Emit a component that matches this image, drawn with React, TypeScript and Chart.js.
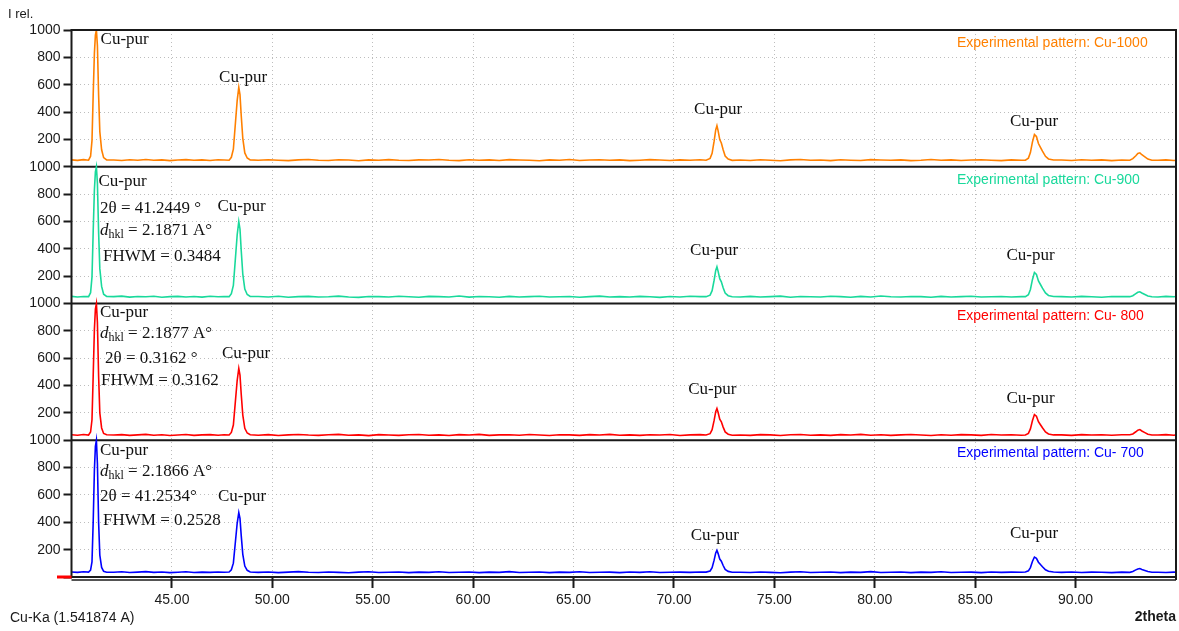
import { useEffect, useRef } from 'react';
import { Chart, registerables } from 'chart.js';

Chart.register(...registerables);

// 2θ sampling grid (degrees), shared by the four diffractograms
const twoTheta = [
  40.0, 40.3, 40.6,
  40.85, 40.95, 41.02, 41.08, 41.14, 41.19, 41.24, 41.29, 41.35, 41.41, 41.5, 41.6, 41.75,
  42.1, 42.5, 42.9, 43.3, 43.7, 44.1, 44.5, 44.9, 45.3, 45.7, 46.1, 46.5, 46.9, 47.3, 47.6,
  47.85, 47.96, 48.06, 48.16, 48.25, 48.33, 48.39, 48.45, 48.53, 48.63, 48.75, 48.9,
  49.3, 49.8, 50.3, 50.8, 51.3, 51.8, 52.3, 52.8, 53.3, 53.8, 54.3, 54.8, 55.3, 55.8, 56.3,
  56.8, 57.3, 57.8, 58.3, 58.8, 59.3, 59.8, 60.3, 60.8, 61.3, 61.8, 62.3, 62.8, 63.3, 63.8,
  64.3, 64.8, 65.3, 65.8, 66.3, 66.8, 67.3, 67.8, 68.3, 68.8, 69.3, 69.8, 70.3, 70.8, 71.3,
  71.6, 71.8, 71.9, 72.0, 72.08, 72.14, 72.2, 72.28, 72.36, 72.45, 72.55, 72.7, 72.9,
  73.3, 73.8, 74.3, 74.8, 75.3, 75.8, 76.3, 76.8, 77.3, 77.8, 78.3, 78.8, 79.3, 79.8, 80.3,
  80.8, 81.3, 81.8, 82.3, 82.8, 83.3, 83.8, 84.3, 84.8, 85.3, 85.8, 86.3, 86.8, 87.3,
  87.5, 87.65, 87.75, 87.85, 87.95, 88.05, 88.15, 88.25, 88.35, 88.5, 88.65, 88.9,
  89.3, 89.8, 90.3, 90.8, 91.3, 91.8, 92.3,
  92.7, 92.85, 93.0, 93.1, 93.2, 93.3, 93.45, 93.6, 93.8,
  94.1, 94.5, 94.9, 95.0,
];

// Relative intensities (0–1000) per sample
const cu1000 = [
  50, 47, 52,
  48, 77, 191, 524, 829, 962, 1000, 886, 524, 257, 124, 67, 50,
  49, 46, 51, 48, 53, 47, 50, 45, 49, 52, 47, 50, 46, 51, 49,
  48, 69, 128, 314, 484, 580, 527, 378, 208, 101, 64, 50,
  47, 51, 48, 45, 50, 53, 48, 46, 51, 49, 44, 50, 47, 52, 48,
  46, 50, 49, 53, 47, 45, 51, 48, 50, 46, 52, 49, 47, 44, 50,
  48, 53, 46, 49, 51, 47, 50, 45, 48, 52, 49, 46, 50, 48, 51,
  48, 61, 98, 187, 270, 300, 262, 199, 174, 124, 78, 56, 47,
  49, 46, 51, 48, 44, 50, 53, 47, 49, 45, 51, 48, 46, 52, 49,
  47, 50, 45, 48, 53, 47, 50, 46, 49, 51, 48, 45, 50, 47,
  48, 63, 104, 180, 236, 221, 170, 142, 114, 76, 57, 49,
  49, 46, 51, 48, 50, 45, 49,
  48, 59, 80, 97, 102, 88, 72, 56, 47,
  47, 50, 46, 48,
];

const cu900 = [
  52, 48, 51,
  50, 79, 193, 525, 830, 962, 1000, 880, 520, 255, 125, 68, 52,
  50, 54, 47, 51, 49, 53, 46, 50, 52, 48, 51, 47, 53, 49, 50,
  50, 72, 132, 325, 501, 600, 545, 391, 215, 105, 66, 51,
  51, 48, 53, 46, 50, 52, 47, 49, 54, 48, 45, 51, 50, 47, 53,
  49, 46, 52, 50, 48, 55, 47, 51, 49, 46, 52, 48, 50, 53, 47,
  49, 51, 46, 50, 54, 48, 50, 47, 52, 49, 45, 51, 48, 53, 50,
  50, 61, 94, 170, 242, 268, 235, 181, 159, 115, 76, 57, 49,
  48, 52, 47, 50, 54, 46, 51, 49, 47, 53, 50, 46, 52, 48, 55,
  49, 47, 51, 50, 46, 52, 48, 50, 53, 47, 49, 51, 48, 50,
  50, 64, 103, 174, 227, 213, 165, 139, 112, 77, 59, 51,
  50, 47, 52, 49, 46, 51, 50,
  50, 57, 72, 82, 86, 77, 66, 55, 49,
  48, 52, 49, 51,
];

const cu800 = [
  40, 37, 42,
  38, 60, 150, 470, 810, 960, 1000, 860, 470, 200, 90, 50, 40,
  38, 41, 36, 39, 43, 37, 40, 35, 38, 42, 36, 39, 41, 37, 40,
  38, 57, 111, 282, 437, 525, 476, 340, 184, 87, 53, 40,
  37, 41, 35, 39, 42, 38, 36, 40, 43, 37, 39, 34, 41, 38, 36,
  40, 42, 37, 39, 35, 41, 38, 43, 36, 39, 40, 37, 42, 38, 35,
  40, 39, 36, 41, 38, 43, 37, 39, 36, 40, 38, 42, 35, 39, 41,
  38, 48, 77, 145, 209, 232, 203, 154, 135, 96, 61, 44, 37,
  38, 36, 41, 39, 35, 40, 42, 37, 39, 36, 41, 38, 43, 37, 40,
  36, 39, 42, 38, 35, 40, 37, 41, 39, 36, 42, 38, 40, 37,
  38, 50, 83, 143, 188, 176, 136, 113, 91, 61, 46, 39,
  39, 36, 41, 38, 40, 37, 40,
  40, 46, 62, 74, 78, 68, 56, 44, 38,
  38, 41, 37, 39,
];

const cu700 = [
  37, 34, 38,
  36, 50, 110, 400, 780, 955, 1000, 830, 400, 160, 70, 42, 35,
  35, 38, 33, 36, 39, 34, 37, 32, 35, 38, 33, 36, 34, 37, 35,
  36, 53, 101, 254, 393, 471, 428, 306, 166, 80, 49, 37,
  34, 37, 32, 36, 39, 35, 33, 37, 34, 31, 36, 38, 33, 35, 37,
  32, 36, 34, 38, 33, 35, 37, 32, 36, 34, 39, 33, 35, 37, 32,
  36, 34, 38, 33, 35, 36, 32, 37, 34, 38, 33, 35, 36, 34, 37,
  36, 44, 68, 123, 176, 195, 171, 131, 116, 84, 55, 41, 35,
  35, 33, 37, 34, 31, 36, 38, 33, 35, 37, 32, 36, 34, 39, 33,
  35, 37, 32, 36, 34, 38, 33, 35, 36, 32, 37, 34, 36, 35,
  36, 45, 69, 113, 146, 137, 108, 91, 75, 53, 42, 36,
  34, 37, 33, 36, 35, 32, 36,
  34, 40, 52, 59, 62, 55, 48, 40, 35,
  35, 33, 36, 34,
];

const sampleNames = ['Cu-1000', 'Cu-900', 'Cu- 800', 'Cu- 700'];
const sampleColors = ['#ff8000', '#19d99b', '#ff0000', '#0000ff'];
const sampleSeries = [cu1000, cu900, cu800, cu700];

const xTickValues = [45, 50, 55, 60, 65, 70, 75, 80, 85, 90];
const panelMax = 1000;
const panelCount = 4;

// "Cu-pur" phase tags, in (2θ, intensity) of their own panel
const peakTags = [
  { panel: 0, x: 41.45, y: 927, align: 'left' },
  { panel: 0, x: 48.55, y: 654, align: 'center' },
  { panel: 0, x: 72.2, y: 415, align: 'center' },
  { panel: 0, x: 87.93, y: 334, align: 'center' },
  { panel: 1, x: 41.34, y: 890, align: 'left' },
  { panel: 1, x: 48.47, y: 707, align: 'center' },
  { panel: 1, x: 72.0, y: 385, align: 'center' },
  { panel: 1, x: 87.76, y: 354, align: 'center' },
  { panel: 2, x: 41.42, y: 931, align: 'left' },
  { panel: 2, x: 48.69, y: 634, align: 'center' },
  { panel: 2, x: 71.91, y: 373, align: 'center' },
  { panel: 2, x: 87.76, y: 305, align: 'center' },
  { panel: 3, x: 41.42, y: 927, align: 'left' },
  { panel: 3, x: 48.49, y: 585, align: 'center' },
  { panel: 3, x: 72.03, y: 305, align: 'center' },
  { panel: 3, x: 87.93, y: 320, align: 'center' },
];

// Main-peak measurements written beside the (111) reflection
const peakInfo = [
  { panel: 1, x: 41.42, y: 695, text: '2θ = 41.2449 °' },
  { panel: 1, x: 41.42, y: 531, dhkl: ' = 2.1871 A°' },
  { panel: 1, x: 41.57, y: 342, text: 'FHWM = 0.3484' },
  { panel: 2, x: 41.42, y: 780, dhkl: ' = 2.1877 A°' },
  { panel: 2, x: 41.67, y: 598, text: '2θ = 0.3162 °' },
  { panel: 2, x: 41.47, y: 439, text: 'FHWM = 0.3162' },
  { panel: 3, x: 41.42, y: 768, dhkl: ' = 2.1866 A°' },
  { panel: 3, x: 41.42, y: 585, text: '2θ = 41.2534°' },
  { panel: 3, x: 41.57, y: 415, text: 'FHWM = 0.2528' },
];

const SANS = '"Liberation Sans", Arial, sans-serif';
const SERIF = '"Liberation Serif", "Times New Roman", serif';

// panel 0 sits on top, so it gets the highest offset
const panelOffset = (p: number) => (panelCount - 1 - p) * panelMax;

const decorPlugin = {
  id: 'xrdDecor',
  beforeDatasetsDraw(chart: any) {
    const { ctx, chartArea: a, scales } = chart;
    const y = scales.y;
    ctx.save();
    ctx.strokeStyle = '#1a1a1a';
    ctx.lineWidth = 2;
    for (let k = 1; k < panelCount; k++) {
      const py = y.getPixelForValue(k * panelMax);
      ctx.beginPath();
      ctx.moveTo(a.left, py);
      ctx.lineTo(a.right, py);
      ctx.stroke();
    }
    ctx.restore();
  },
  afterDatasetsDraw(chart: any) {
    const { ctx, chartArea: a, scales } = chart;
    const xs = scales.x;
    const ys = scales.y;
    ctx.save();

    // plot frame, with the doubled base line
    ctx.strokeStyle = '#1a1a1a';
    ctx.lineWidth = 2;
    ctx.beginPath();
    ctx.moveTo(a.left, a.bottom);
    ctx.lineTo(a.left, a.top);
    ctx.lineTo(a.right, a.top);
    ctx.lineTo(a.right, a.bottom + 3);
    ctx.moveTo(a.left, a.bottom);
    ctx.lineTo(a.right, a.bottom);
    ctx.stroke();
    ctx.lineWidth = 1.5;
    ctx.beginPath();
    ctx.moveTo(a.left, a.bottom + 3);
    ctx.lineTo(a.right, a.bottom + 3);
    ctx.stroke();

    // zero marker on the intensity axis
    ctx.fillStyle = '#ff0000';
    ctx.fillRect(57, a.bottom - 1.5, a.left - 57, 3);

    // sample captions
    ctx.font = `14px ${SANS}`;
    ctx.textAlign = 'left';
    ctx.textBaseline = 'middle';
    sampleNames.forEach((name, p) => {
      ctx.fillStyle = sampleColors[p];
      const top = ys.getPixelForValue(panelOffset(p) + panelMax);
      ctx.fillText(`Experimental pattern: ${name}`, 957, top + 13);
    });

    // phase tags
    ctx.fillStyle = '#111';
    ctx.font = `17px ${SERIF}`;
    peakTags.forEach((t) => {
      ctx.textAlign = t.align;
      ctx.fillText('Cu-pur', xs.getPixelForValue(t.x), ys.getPixelForValue(t.y + panelOffset(t.panel)));
    });

    // peak measurements
    ctx.textAlign = 'left';
    peakInfo.forEach((t: any) => {
      const px = xs.getPixelForValue(t.x);
      const py = ys.getPixelForValue(t.y + panelOffset(t.panel));
      if (t.dhkl) {
        let cx = px;
        ctx.font = `italic 17px ${SERIF}`;
        ctx.fillText('d', cx, py);
        cx += ctx.measureText('d').width;
        ctx.font = `12px ${SERIF}`;
        ctx.fillText('hkl', cx, py + 4);
        cx += ctx.measureText('hkl').width;
        ctx.font = `17px ${SERIF}`;
        ctx.fillText(t.dhkl, cx, py);
      } else {
        ctx.font = `17px ${SERIF}`;
        ctx.fillText(t.text, px, py);
      }
    });
    ctx.restore();
  },
  afterDraw(chart: any) {
    const { ctx, chartArea: a } = chart;
    ctx.save();
    ctx.fillStyle = '#1a1a1a';
    ctx.textBaseline = 'middle';
    ctx.textAlign = 'left';
    ctx.font = `13px ${SANS}`;
    ctx.fillText('I rel.', 8, 14);
    ctx.font = `14px ${SANS}`;
    ctx.fillText('Cu-Ka (1.541874 A)', 10, 618);
    ctx.textAlign = 'right';
    ctx.font = `bold 14px ${SANS}`;
    ctx.fillText('2theta', a.right, 617);
    ctx.restore();
  },
};

export default function App() {
  const canvasRef = useRef<HTMLCanvasElement | null>(null);

  useEffect(() => {
    const canvas = canvasRef.current;
    if (!canvas) return;

    const datasets = sampleSeries.map((values, p) => ({
      label: sampleNames[p],
      data: twoTheta.map((x, i) => ({ x, y: values[i] + panelOffset(p) })),
      borderColor: sampleColors[p],
      borderWidth: 1.6,
      pointRadius: 0,
      tension: 0,
      fill: false,
    }));

    const chart = new Chart(canvas, {
      type: 'line',
      data: { datasets },
      options: {
        responsive: false,
        animation: false,
        devicePixelRatio: 1,
        layout: { padding: { top: 30, right: 3, bottom: 0, left: 0 } },
        plugins: { legend: { display: false }, tooltip: { enabled: false } },
        scales: {
          x: {
            type: 'linear',
            min: 40,
            max: 95,
            afterBuildTicks: (s: any) => {
              s.ticks = xTickValues.map((v) => ({ value: v }));
            },
            afterFit: (s: any) => {
              s.height = 54;
            },
            ticks: {
              autoSkip: false,
              maxRotation: 0,
              padding: 4,
              color: '#1a1a1a',
              font: { family: SANS, size: 14 },
              callback: (v: any) => Number(v).toFixed(2),
            },
            grid: {
              color: '#bdbdbd',
              lineWidth: 1,
              tickColor: '#1a1a1a',
              tickLength: 11,
              tickWidth: 2,
            },
            border: { display: false, dash: [1, 3] },
          },
          y: {
            type: 'linear',
            min: 0,
            max: panelCount * panelMax,
            afterFit: (s: any) => {
              s.width = 71.5;
            },
            ticks: {
              stepSize: 200,
              autoSkip: false,
              padding: 3,
              color: '#1a1a1a',
              font: { family: SANS, size: 14 },
              callback: (v: any) => {
                const n = Number(v);
                if (n === 0) return '';
                const r = n % panelMax;
                return r === 0 ? String(panelMax) : String(r);
              },
            },
            grid: {
              color: (c: any) =>
                c.tick && c.tick.value % panelMax === 0 ? 'rgba(0,0,0,0)' : '#bdbdbd',
              lineWidth: 1,
              tickColor: '#1a1a1a',
              tickLength: 8,
              tickWidth: 2,
            },
            border: { display: false, dash: [1, 3] },
          },
        },
      },
      plugins: [decorPlugin],
    } as any);

    return () => chart.destroy();
  }, []);

  return (
    <div style={{ position: 'absolute', left: 0, top: 0, width: 1179, height: 631, background: '#fff' }}>
      <canvas ref={canvasRef} width={1179} height={631} />
    </div>
  );
}
